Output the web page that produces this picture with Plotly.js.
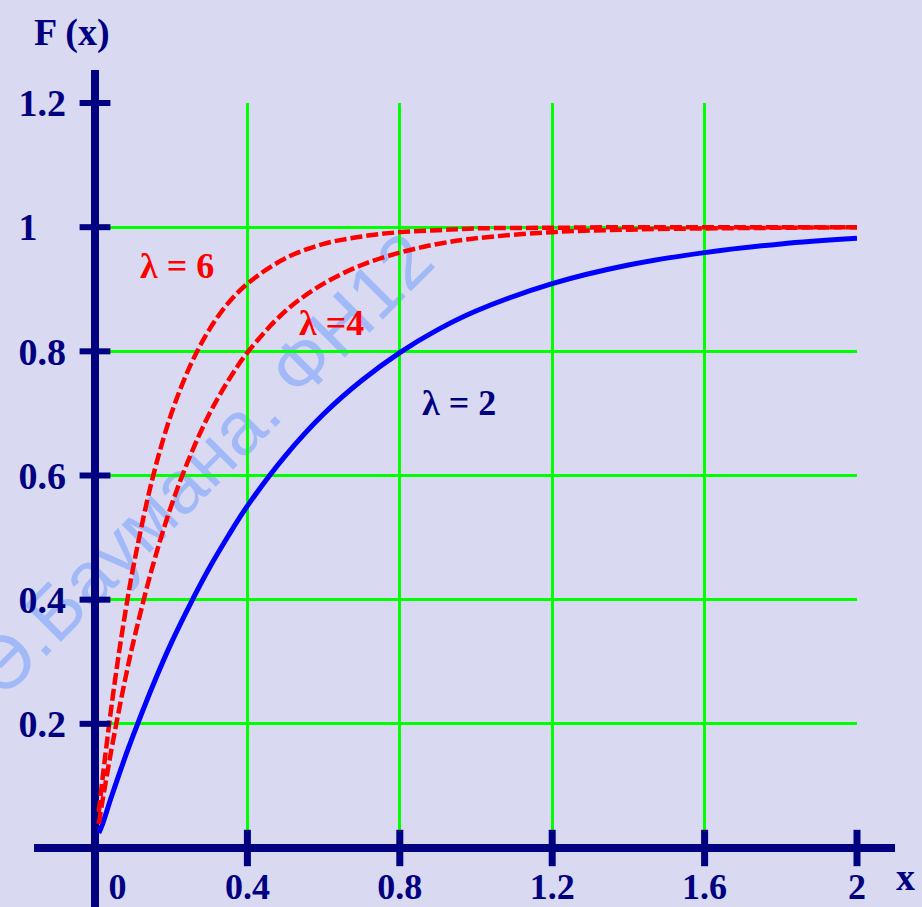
<!DOCTYPE html>
<html>
<head>
<meta charset="utf-8">
<script src="https://cdn.plot.ly/plotly-3.0.1.min.js"></script>
<style>html,body{margin:0;padding:0;background:#d9d9f2;}</style>
</head>
<body>
<div id="chart" style="width:922px;height:907px;"></div>
<script>
// ---- data ----
const xValues = [0.01, 0.02, 0.04, 0.06, 0.08, 0.1, 0.15, 0.2, 0.25, 0.3, 0.35, 0.4, 0.5, 0.6, 0.7, 0.8, 0.9, 1.0, 1.2, 1.4, 1.6, 1.8, 2.0];
const fLambda2 = [0.024, 0.039, 0.077, 0.113, 0.148, 0.181, 0.259, 0.330, 0.393, 0.451, 0.503, 0.551, 0.632, 0.699, 0.753, 0.798, 0.835, 0.865, 0.909, 0.939, 0.959, 0.973, 0.982];
const fLambda4 = [0.039, 0.077, 0.148, 0.213, 0.274, 0.330, 0.451, 0.551, 0.632, 0.699, 0.753, 0.798, 0.865, 0.909, 0.939, 0.959, 0.973, 0.982, 0.992, 0.996, 0.998, 0.999, 1.0];
const fLambda6 = [0.058, 0.113, 0.213, 0.302, 0.381, 0.451, 0.593, 0.699, 0.777, 0.835, 0.878, 0.909, 0.950, 0.973, 0.985, 0.992, 0.995, 0.998, 0.999, 1.0, 1.0, 1.0, 1.0];
const xTicks = [0, 0.4, 0.8, 1.2, 1.6, 2];
const xTickLabels = ["0", "0.4", "0.8", "1.2", "1.6", "2"];
const yTicks = [0.2, 0.4, 0.6, 0.8, 1, 1.2];
const yTickLabels = ["0.2", "0.4", "0.6", "0.8", "1", "1.2"];
const curveLabels = [
  {text: "λ = 6", x: 0.215, y: 0.9375, color: "#ff0000"},
  {text: "λ =4", x: 0.622, y: 0.846, color: "#ff0000"},
  {text: "λ = 2", x: 0.955, y: 0.717, color: "#000080"}
];
const watermark = "Н.Э.Баумана. ФН12";

// ---- styles ----
const NAVY = "#000080";
const BG = "#d9d9f2";
const GRID = "#00ff00";
const serif = "Liberation Serif, Times New Roman, serif";
const NB = "\u00a0";

// left-aligned look for y labels: pad shorter labels with non-breaking spaces
const maxLen = Math.max(...yTickLabels.map(s => s.length));
const yTickText = yTickLabels.map(s => s + NB.repeat(Math.round((maxLen - s.length) * 1.5)));
const xTickText = xTickLabels.map((s, i) => i === 0 ? NB.repeat(5) + s : s);

const traces = [
  {x: xValues, y: fLambda2, type: "scatter", mode: "lines", line: {color: "#0000ff", width: 5, shape: "spline"}, hoverinfo: "skip"},
  {x: xValues, y: fLambda4, type: "scatter", mode: "lines", line: {color: "#ff0000", width: 4.5, dash: "12px,4px", shape: "spline"}, hoverinfo: "skip"},
  {x: xValues, y: fLambda6, type: "scatter", mode: "lines", line: {color: "#ff0000", width: 4.5, dash: "12px,4px", shape: "spline"}, hoverinfo: "skip"},
  // axis tick marks crossing the axis lines
  {x: yTicks.map(() => 0), y: yTicks, type: "scatter", mode: "markers", cliponaxis: false, hoverinfo: "skip",
   marker: {symbol: "line-ew", size: 22, line: {color: NAVY, width: 6}}},
  {x: xTicks.slice(1), y: xTicks.slice(1).map(() => 0), type: "scatter", mode: "markers", cliponaxis: false, hoverinfo: "skip",
   marker: {symbol: "line-ns", size: 26, line: {color: NAVY, width: 7}}}
];

const annotations = curveLabels.map(c => ({
  text: c.text, x: c.x, y: c.y, xref: "x", yref: "y", showarrow: false,
  xanchor: "center", yanchor: "middle",
  font: {family: serif, size: 36, color: c.color, weight: "bold"}
}));
annotations.push({text: "F (x)", xref: "paper", yref: "paper", x: -0.030, y: 1.094, showarrow: false,
  xanchor: "center", yanchor: "middle", font: {family: serif, size: 38, color: NAVY, weight: "bold"}});
annotations.push({text: "x", xref: "paper", yref: "paper", x: 1.063, y: -0.039, showarrow: false,
  xanchor: "center", yanchor: "middle", font: {family: serif, size: 38, color: NAVY, weight: "bold"}});

const shapes = [
  // watermark (below gridlines)
  {type: "line", xref: "paper", yref: "paper", x0: -0.160, y0: 0.142, x1: 0.437, y1: 0.753, layer: "below",
   line: {color: "rgba(0,0,0,0)", width: 0},
   label: {text: watermark, textangle: "auto", textposition: "middle", yanchor: "bottom", padding: 0,
           font: {family: "Liberation Sans, Arial, sans-serif", size: 75, color: "#a2b9f8"}}},
  // y axis line
  {type: "line", xref: "paper", yref: "paper", x0: 0, x1: 0, y0: -0.0792, y1: 1.0443, layer: "between",
   line: {color: NAVY, width: 8}},
  // x axis line
  {type: "line", xref: "paper", yref: "paper", x0: -0.080, x1: 1.0499, y0: 0, y1: 0, layer: "between",
   line: {color: NAVY, width: 8}}
];

const layout = {
  width: 922, height: 907, autosize: false,
  margin: {l: 95, r: 65, t: 103, b: 59, pad: 0},
  paper_bgcolor: BG, plot_bgcolor: BG,
  showlegend: false,
  xaxis: {range: [0, 2], tickvals: xTicks, ticktext: xTickText, showgrid: true, gridcolor: GRID, gridwidth: 3,
          zeroline: false, showline: false, ticks: "", ticklabelstandoff: 14,
          tickfont: {family: serif, size: 36, color: NAVY, weight: "bold"}, fixedrange: true},
  yaxis: {range: [0, 1.2], tickvals: yTicks, ticktext: yTickText, showgrid: true, gridcolor: GRID, gridwidth: 3,
          zeroline: false, showline: false, ticks: "", ticklabelstandoff: 28,
          tickfont: {family: serif, size: 38, color: NAVY, weight: "bold"}, fixedrange: true},
  annotations: annotations,
  shapes: shapes
};

Plotly.newPlot("chart", traces, layout, {staticPlot: true, displayModeBar: false});
</script>
</body>
</html>
